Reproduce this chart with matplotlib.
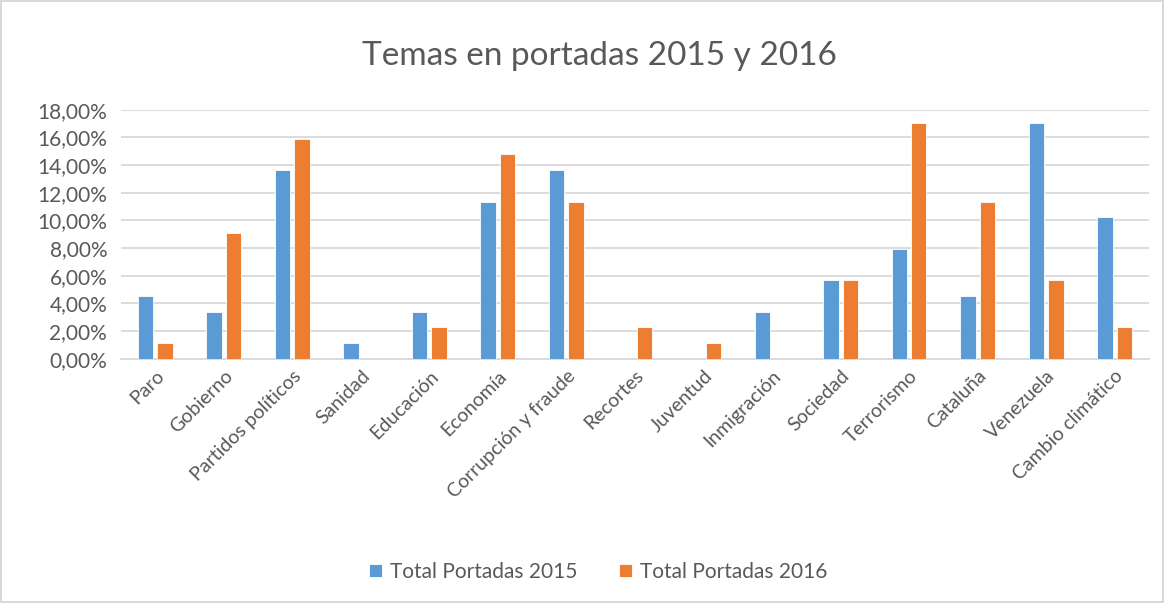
import numpy as np
import matplotlib.pyplot as plt
from matplotlib.ticker import FuncFormatter

temas = ["Paro", "Gobierno", "Partidos políticos", "Sanidad", "Educación", "Economía",
         "Corrupción y fraude", "Recortes", "Juventud", "Inmigración", "Sociedad",
         "Terrorismo", "Cataluña", "Venezuela", "Cambio climático"]
total_2015 = [4.55, 3.41, 13.64, 1.14, 3.41, 11.36, 13.64, 0, 0, 3.41, 5.68, 7.95, 4.55, 17.05, 10.23]
total_2016 = [1.14, 9.09, 15.91, 0, 2.27, 14.77, 11.36, 2.27, 1.14, 0, 5.68, 17.05, 11.36, 5.68, 2.27]

plt.rcParams['font.family'] = ['Lato', 'DejaVu Sans']

fig = plt.figure(figsize=(11.64, 6.03), dpi=100)
fig.patch.set_edgecolor('#D9D9D9')
fig.patch.set_linewidth(1.5)
ax = fig.add_axes([0.104, 0.405, 0.883, 0.413])

x = np.arange(len(temas))
w = 0.225
ax.bar(x - 0.142, np.array(total_2015) / 100, w, color='#5B9BD5', edgecolor='white', linewidth=0.6,
       label='Total Portadas 2015', zorder=3)
ax.bar(x + 0.142, np.array(total_2016) / 100, w, color='#ED7D31', edgecolor='white', linewidth=0.6,
       label='Total Portadas 2016', zorder=3)

ax.set_xlim(-0.5, len(temas) - 0.5)
ax.set_ylim(0, 0.18)
ax.set_yticks(np.arange(0, 0.181, 0.02))
ax.yaxis.set_major_formatter(FuncFormatter(lambda v, p: f"{v*100:.2f}%".replace('.', ',')))
ax.grid(axis='y', color='#D9D9D9', linewidth=1.3, zorder=0)
for s in ['top', 'right', 'left']:
    ax.spines[s].set_visible(False)
ax.spines['bottom'].set_color('#D9D9D9')
ax.spines['bottom'].set_linewidth(1.3)
ax.tick_params(axis='both', length=0, labelcolor='#595959')
ax.tick_params(axis='y', labelsize=15, pad=10)
ax.tick_params(axis='x', labelsize=14, pad=6)
ax.set_xticks(x)
ax.set_xticklabels(temas, rotation=45, ha='right', rotation_mode='anchor')

fig.text(0.515, 0.907, "Temas en portadas 2015 y 2016", ha='center', va='center',
         fontsize=24, color='#595959')
fig.legend(loc='center', bbox_to_anchor=(0.514, 0.052), ncol=2, frameon=False,
           fontsize=15, labelcolor='#595959', handlelength=0.6, handleheight=0.6,
           columnspacing=2.0, handletextpad=0.4)

plt.savefig('out.png', dpi=100)
